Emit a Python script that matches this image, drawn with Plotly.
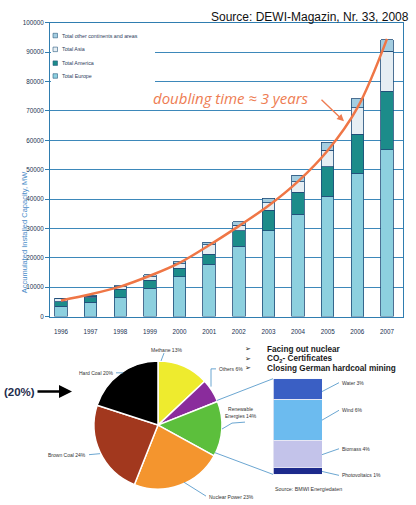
import plotly.graph_objects as go

W, H = 416, 505


def px(x):
    return x / W


def py(y):
    return 1 - y / H


# ---------------- data: wind capacity (top chart) ----------------
years = [1996, 1997, 1998, 1999, 2000, 2001, 2002, 2003, 2004, 2005, 2006, 2007]
year_labels = [str(y) for y in years]
europe = [3500, 4800, 6400, 9600, 13500, 17800, 23900, 29200, 34800, 40900, 48700, 56800]
america = [1600, 1700, 2900, 2800, 3000, 3400, 5300, 7000, 7500, 10100, 13400, 19900]
asia = [900, 500, 900, 1100, 1500, 3300, 1900, 2500, 3600, 5600, 9000, 13600]
other = [300, 300, 300, 700, 600, 800, 1200, 1600, 2200, 2700, 3100, 3900]
trend = [5500, 7600, 10200, 13900, 18300, 24300, 30800, 37700, 46000, 56500, 71000, 94500]

y_ticks = [0, 10000, 20000, 30000, 40000, 50000, 60000, 70000, 80000, 90000, 100000]
y_tick_labels = ["0", "10000", "20000", "30000", "40000", "50000",
                 "60000", "70000", "80000", "90000", "100000"]

series_names = ["Total Europe", "Total America", "Total Asia", "Total other continents and areas"]
series_colors = ["#8dd0df", "#1c8c8a", "#e6eef3", "#a4cde0"]

# ---------------- data: German electricity mix (pie) ----------------
pie_labels = ["Methane", "Others", "Renewable Energies", "Nuclear Power", "Brown Coal", "Hard Coal"]
pie_values = [13, 6, 14, 23, 24, 20]
pie_colors = ["#eeeb2e", "#8a2c9c", "#5cbf3c", "#f4952e", "#a2381e", "#000000"]

# ---------------- data: renewable breakdown (small column) ----------------
ren_labels = ["Photovoltaics", "Biomass", "Wind", "Water"]
ren_values = [1, 4, 6, 3]
ren_colors = ["#1c2a8c", "#c3c3ea", "#6cbbef", "#3a5fc4"]

fig = go.Figure()

stack = [europe, america, asia, other]
for name, vals, col in zip(series_names, stack, series_colors):
    fig.add_trace(go.Bar(
        x=years, y=vals, name=name, width=0.42,
        marker=dict(color=col, line=dict(color="#1f4c78", width=0.8)),
        xaxis="x", yaxis="y", showlegend=False))

fig.add_trace(go.Scatter(
    x=years, y=trend, mode="lines",
    line=dict(color="#ef7646", width=2.5, shape="spline", smoothing=1.0),
    xaxis="x", yaxis="y", showlegend=False, hoverinfo="skip"))

fig.add_trace(go.Pie(
    labels=pie_labels, values=pie_values, sort=False, direction="clockwise",
    rotation=0, textinfo="none",
    marker=dict(colors=pie_colors, line=dict(color="white", width=1.5)),
    domain=dict(x=[px(94), px(222)], y=[py(492), py(362)]),
    showlegend=False))

for name, v, col in zip(ren_labels, ren_values, ren_colors):
    fig.add_trace(go.Bar(
        x=["R"], y=[v], name=name, width=1,
        marker=dict(color=col, line=dict(color="#e8e8f4", width=0.8)),
        xaxis="x2", yaxis="y2", showlegend=False))

axis_blue = "#2f7db0"
fig.update_layout(
    width=W, height=H,
    margin=dict(l=0, r=0, t=0, b=0),
    paper_bgcolor="white", plot_bgcolor="white",
    barmode="stack",
    font=dict(family="Liberation Sans, Arial, sans-serif", color="#222"),
    xaxis=dict(domain=[px(50), px(403)], range=[1995.63, 2007.54],
               tickvals=years, ticktext=year_labels, showgrid=False,
               showline=True, linecolor=axis_blue, linewidth=1, mirror=True,
               ticks="", tickfont=dict(size=6.3, color="#203050"),
               ticklabelstandoff=9, zeroline=False, anchor="y"),
    yaxis=dict(domain=[py(317), py(19)], range=[0, 100000],
               tickvals=y_ticks, ticktext=y_tick_labels,
               showgrid=True, gridcolor="#3d88ba", gridwidth=1,
               showline=True, linecolor=axis_blue, linewidth=1, mirror=True,
               ticks="outside", ticklen=4, tickcolor=axis_blue,
               tickfont=dict(size=6.3, color="#203050"), zeroline=False,
               anchor="x"),
    xaxis2=dict(domain=[px(273), px(322)], range=[-0.5, 0.5], visible=False,
                anchor="y2"),
    yaxis2=dict(domain=[py(477), py(380)], range=[0, 14], visible=False,
                anchor="x2"),
)

shapes = []
annotations = []

# legend (manual) with white backing that hides gridlines
shapes.append(dict(type="rect", xref="paper", yref="paper", layer="above",
                   x0=px(51), x1=px(155), y0=py(80), y1=py(21),
                   fillcolor="white", line=dict(width=0)))
leg_rows = [(32, 3), (46, 2), (60, 1), (73, 0)]
for yy, idx in leg_rows:
    shapes.append(dict(type="rect", xref="paper", yref="paper", layer="above",
                       x0=px(53), x1=px(57.5), y0=py(yy + 2.3), y1=py(yy - 2.3),
                       fillcolor=series_colors[idx],
                       line=dict(color="#2a5a80", width=0.6)))
    annotations.append(dict(text=series_names[idx], xref="paper", yref="paper",
                            x=px(59.5), y=py(yy), xanchor="left", yanchor="middle",
                            showarrow=False, font=dict(size=5.3, color="#2a3a5a")))

# axis title
annotations.append(dict(text="Accumulated Installed Capacity, MW", xref="paper", yref="paper",
                        x=px(18), y=py(168), textangle=-90, showarrow=False,
                        font=dict(size=7.5, color="#4a8cc8")))

# source top
annotations.append(dict(text="Source: DEWI-Magazin, Nr. 33, 2008", xref="paper", yref="paper",
                        x=px(411), y=py(13), xanchor="right", yanchor="middle",
                        showarrow=False, font=dict(size=12, color="#111")))

# doubling text + arrow
annotations.append(dict(text="<i>doubling time \u2248 3 years</i>", xref="paper", yref="paper",
                        x=px(231), y=py(95), xanchor="center", yanchor="middle",
                        showarrow=False,
                        font=dict(size=15, color="#ee7c52",
                                  family="Open Sans, Liberation Sans, sans-serif")))
annotations.append(dict(text="", xref="paper", yref="paper", x=px(344), y=py(119),
                        ax=-24, ay=-23, showarrow=True, arrowhead=2, arrowsize=1,
                        arrowwidth=1.4, arrowcolor="#ee7c52"))

# (20%) arrow
annotations.append(dict(text="<b>(20%)</b>", xref="paper", yref="paper",
                        x=px(2), y=py(393), xanchor="left", yanchor="middle",
                        showarrow=False, font=dict(size=11.5, color="#1f2d4d")))
annotations.append(dict(text="", xref="paper", yref="paper", x=px(72), y=py(393),
                        ax=-36, ay=0, showarrow=True, arrowhead=2, arrowsize=1,
                        arrowwidth=2.6, arrowcolor="#000"))

# bullets
bullets = ["Facing out nuclear", "CO<sub>2</sub>- Certificates", "Closing German hardcoal mining"]
for yy, txt in zip([350, 360, 369.5], bullets):
    annotations.append(dict(text="\u27a2", xref="paper", yref="paper", x=px(248), y=py(yy),
                            xanchor="center", yanchor="middle", showarrow=False,
                            font=dict(size=7, color="#222", family="DejaVu Sans")))
    annotations.append(dict(text="<b>" + txt + "</b>", xref="paper", yref="paper",
                            x=px(265), y=py(yy), xanchor="left", yanchor="middle",
                            showarrow=False, font=dict(size=8.2, color="#1a1a1a")))

# pie labels
lead = "#5a9ccc"
pie_text = [
    ("Methane 13%", 166, 351, "center"),
    ("Others 6%", 217, 370, "left"),
    ("Renewable<br>Energies 14%", 241, 414, "center"),
    ("Nuclear Power 23%", 207, 500, "left"),
    ("Brown Coal 24%", 88, 457, "right"),
    ("Hard Coal 20%", 115, 374, "right"),
]
for txt, x, y, anc in pie_text:
    annotations.append(dict(text=txt, xref="paper", yref="paper", x=px(x), y=py(y),
                            xanchor=anc, yanchor="middle", showarrow=False,
                            font=dict(size=5, color="#333")))

lead_lines = [
    [(164, 354), (161, 362)],
    [(216, 370), (211, 370), (211, 388)],
    [(245, 424), (232, 425), (222, 431)],
    [(206, 499), (195, 492), (184, 485)],
    [(89, 457), (100, 456)],
    [(116, 374), (123, 374)],
    # renewable column leaders
    [(322, 393), (339, 384)],
    [(322, 422), (339, 412)],
    [(322, 457), (339, 451)],
    [(322, 474), (339, 478)],
    # connectors pie -> column
    [(217, 402), (273, 380)],
    [(215, 455), (273, 477)],
]
for pts in lead_lines:
    path = "M " + " L ".join(f"{px(x)},{py(y)}" for x, y in pts)
    shapes.append(dict(type="path", xref="paper", yref="paper", path=path,
                       line=dict(color=lead, width=0.9), layer="above"))

ren_text = [("Water 3%", 384), ("Wind 6%", 412), ("Biomass 4%", 451), ("Photovoltaics 1%", 478)]
for txt, y in ren_text:
    annotations.append(dict(text=txt, xref="paper", yref="paper", x=px(340), y=py(y),
                            xanchor="left", yanchor="middle", showarrow=False,
                            font=dict(size=5, color="#333")))
annotations.append(dict(text="Source: BMWI Energiedaten", xref="paper", yref="paper",
                        x=px(273), y=py(492), xanchor="left", yanchor="middle",
                        showarrow=False, font=dict(size=5.3, color="#333")))

fig.update_layout(shapes=shapes, annotations=annotations)

fig.write_html("out.html",
               config={"displayModeBar": False},
               post_script="document.body.style.margin='0';"
                           "document.body.style.overflow='hidden';")
